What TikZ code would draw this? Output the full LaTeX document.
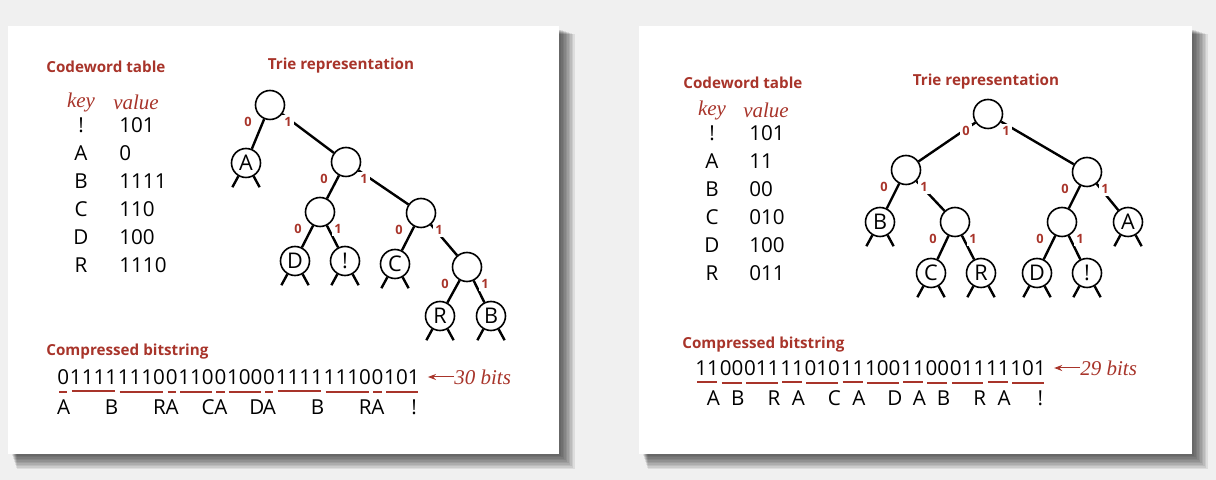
\documentclass[tikz,border=0pt]{standalone}
\usepackage{fontspec}
\setmainfont{Open Sans}
\newfontfamily\serifit{Liberation Serif}
\usetikzlibrary{positioning,arrows.meta}
\definecolor{bookred}{RGB}{168,52,42}
\definecolor{paper}{RGB}{240,240,240}
% edges of a trie node to its two children, with their bit labels
\newcommand{\kids}[3]{%
  \draw[edge] (#1) -- (#2) (#1) -- (#3);
  \path (#1) ++(-22,17) node[bitlab] (#1z) {0};
  \path (#1) ++(18,17) node[bitlab] (#1o) {1};}
\begin{document}
\begin{tikzpicture}[x=0.5pt,y=-0.5pt,
  head/.style={font=\fontsize{7.6}{9}\selectfont\bfseries,text=bookred,inner sep=0pt},
  colhead/.style={font=\serifit\itshape\fontsize{10.5}{12}\selectfont,text=bookred,inner sep=0pt},
  cell/.style={font=\fontsize{10.3}{12}\selectfont,inner sep=0pt},
  trienode/.style={circle,draw,line width=0.8pt,fill=white,minimum size=14.5pt,inner sep=0pt,font=\fontsize{10.8}{12}\selectfont},
  edge/.style={line width=1.2pt},
  bitlab/.style={font=\fontsize{6.4}{7}\selectfont\bfseries,text=bookred,fill=white,inner sep=1.1pt},
  bits/.style={font=\fontsize{10.3}{12}\selectfont,inner sep=0pt},
  seg/.style={draw=bookred,line width=1pt},
  sym/.style={font=\fontsize{10.3}{12}\selectfont,inner sep=0pt},
  note/.style={font=\serifit\itshape\fontsize{10.5}{12}\selectfont,text=bookred,inner sep=0pt},
  arr/.style={-{Stealth[length=4pt,width=3pt]},draw=bookred,line width=0.5pt}]
\useasboundingbox[fill=paper] (0,0) rectangle (1216,480);
% the two cards and their shadows
\foreach \cl/\cr in {8/559,639/1192}{
  \foreach \k in {0,...,9}
    \fill[black,opacity=0.08] (\cl+4+\k*0.5,30+\k*0.5) rectangle (\cr+2+\k*1.5,456+\k*1.5);
  \fill[white] (\cl,26) rectangle (\cr,454);
}

% left: codeword table
\node[head,anchor=west] (lcodet) at (46,67) {Codeword table};
\node[colhead] (lkey) at (81,102) {key};
\node[colhead] (lval) at (136,102) {value};
\foreach \k/\v [count=\i] in {!/101,A/0,B/1111,C/110,D/100,R/1110}{
  \node[cell] (ltk\i) at (81,97+28*\i) {\k};
  \node[cell,anchor=west] (ltv\i) at (119,97+28*\i) {\v};
}

% left: trie
\node[head] (ltriet) at (341,66) {Trie representation};
\node[trienode] (lr) at (270,105) {};
\node[trienode] (la) at (246,163) {A};
\node[trienode] (l1) at (346,162) {};
\node[trienode] (l10) at (320,212) {};
\node[trienode] (l11) at (421,213) {};
\node[trienode] (ld) at (295,261) {D};
\node[trienode] (lx) at (345,261) {!};
\node[trienode] (lc) at (395,264) {C};
\node[trienode] (l111) at (467,267) {};
\node[trienode] (lrr) at (440,316) {R};
\node[trienode] (lb) at (491,316) {B};
\kids{lr}{la}{l1}
\kids{l1}{l10}{l11}
\kids{l10}{ld}{lx}
\kids{l11}{lc}{l111}
\kids{l111}{lrr}{lb}
\foreach \n in {la,ld,lx,lc,lrr,lb}
  \draw[edge] (\n.-120) -- ++(-6,11) (\n.-60) -- ++(6,11);

% left: compressed bitstring
\node[head,anchor=west] (lcomp) at (46,352) {Compressed bitstring};
\coordinate (lbit0) at (57,377);
\foreach \c/\k [count=\i, remember=\i as \j (initially 0)] in
  {0/A,1111/B,1110/R,0/A,110/C,0/A,100/D,0/A,1111/B,1110/R,0/A,101/!}{
  \node[bits,right=0pt of lbit\j] (lbit\i) {\c};
  \draw[seg] ([xshift=1.1pt,yshift=-3.3pt]lbit\i.south west) -- ([xshift=-1.1pt,yshift=-3.3pt]lbit\i.south east);
  \node[sym] (lsym\i) at ([xshift=-2.95pt,yshift=-11.3pt]lbit\i.south east) {\k};
}
\node[note,anchor=west] (lcount) at (454,377) {30 bits};
\draw[arr] (lcount.west |- lbit12.east) -- ([xshift=4pt]lbit12.east);

% right: codeword table
\node[head,anchor=west] (rcodet) at (683,83) {Codeword table};
\node[colhead] (rkey) at (712,110) {key};
\node[colhead] (rval) at (766,110) {value};
\foreach \k/\v [count=\i] in {!/101,A/11,B/00,C/010,D/100,R/011}{
  \node[cell] (rtk\i) at (712,105+28*\i) {\k};
  \node[cell,anchor=west] (rtv\i) at (749,105+28*\i) {\v};
}

% right: trie
\node[head] (rtriet) at (986,82) {Trie representation};
\node[trienode] (rr) at (988,114) {};
\node[trienode] (r0) at (906,170) {};
\node[trienode] (r1) at (1087,172) {};
\node[trienode] (rb) at (880,222) {B};
\node[trienode] (r01) at (955,222) {};
\node[trienode] (r10) at (1062,222) {};
\node[trienode] (ra) at (1128,222) {A};
\node[trienode] (rc) at (931,273) {C};
\node[trienode] (rrr) at (981,273) {R};
\node[trienode] (rd) at (1037,273) {D};
\node[trienode] (rx) at (1087,273) {!};
\kids{rr}{r0}{r1}
\kids{r0}{rb}{r01}
\kids{r1}{r10}{ra}
\kids{r01}{rc}{rrr}
\kids{r10}{rd}{rx}
\foreach \n in {rb,ra,rc,rrr,rd,rx}
  \draw[edge] (\n.-120) -- ++(-6,11) (\n.-60) -- ++(6,11);

% right: compressed bitstring
\node[head,anchor=west] (rcomp) at (682,345) {Compressed bitstring};
\coordinate (rbit0) at (695,368);
\foreach \c/\k [count=\i, remember=\i as \j (initially 0)] in
  {11/A,00/B,011/R,11/A,010/C,11/A,100/D,11/A,00/B,011/R,11/A,101/!}{
  \node[bits,right=0pt of rbit\j] (rbit\i) {\c};
  \draw[seg] ([xshift=1.1pt,yshift=-3.3pt]rbit\i.south west) -- ([xshift=-1.1pt,yshift=-3.3pt]rbit\i.south east);
  \node[sym] (rsym\i) at ([xshift=-2.95pt,yshift=-11.3pt]rbit\i.south east) {\k};
}
\node[note,anchor=west] (rcount) at (1080,368) {29 bits};
\draw[arr] (rcount.west |- rbit12.east) -- ([xshift=4pt]rbit12.east);
\end{tikzpicture}
\end{document}
